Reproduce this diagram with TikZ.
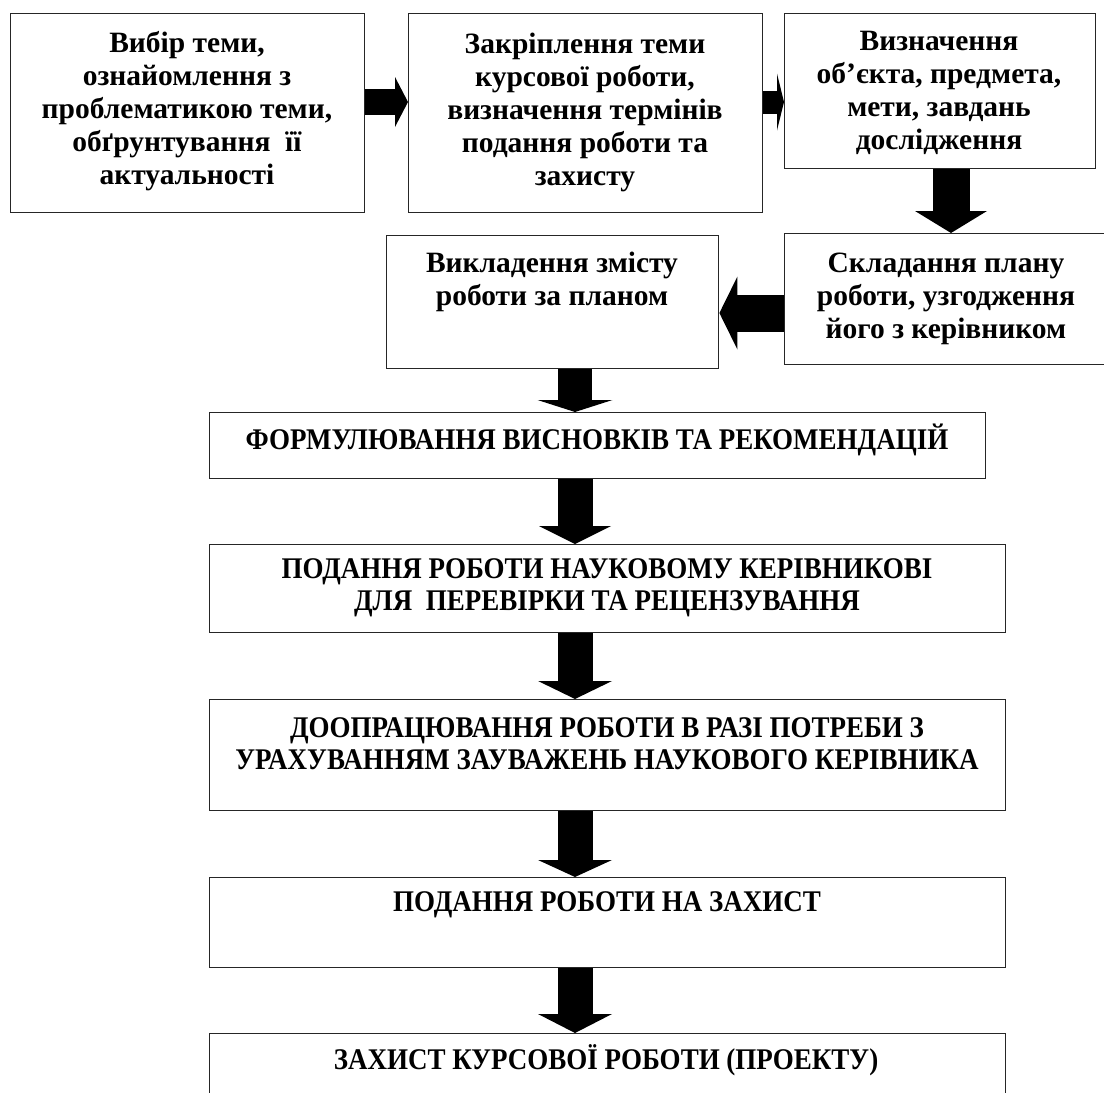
\documentclass[tikz,border=0pt]{standalone}
\usepackage{fontspec}
\setmainfont{Liberation Serif}
\newfontfamily\condfont[FakeStretch=0.9]{Liberation Serif}
\usetikzlibrary{arrows.meta}
\begin{document}
\begin{tikzpicture}[x=1pt,y=-1pt,
  box/.style={draw=black!85, line width=1.4pt, rectangle, inner sep=0pt, anchor=north west},
  lt/.style={font=\bfseries\fontsize{29.5}{33}\selectfont, align=center, inner sep=0pt},
  ut/.style={font=\condfont\bfseries\fontsize{30}{32}\selectfont, align=center, inner sep=0pt},
  fat/.style n args={3}{draw=black, line width=#1, -{Triangle[width=#2, length=#3, line width=0pt]}}
]
\clip (0,0) rectangle (1104,1093);
\fill[white] (0,0) rectangle (1104,1093);
% boxes
\node[box, minimum width=354pt, minimum height=199pt] (b1) at (10,13) {};
\node[box, minimum width=354pt, minimum height=199pt] (b2) at (408,13) {};
\node[box, minimum width=311pt, minimum height=155pt] (b3) at (784,13) {};
\node[box, minimum width=322pt, minimum height=131pt] (b4) at (784,233) {};
\node[box, minimum width=332pt, minimum height=133pt] (b5) at (386,235) {};
\node[box, minimum width=776pt, minimum height=66pt] (b6) at (209,412) {};
\node[box, minimum width=796pt, minimum height=88pt] (b7) at (209,544) {};
\node[box, minimum width=796pt, minimum height=111pt] (b8) at (209,699) {};
\node[box, minimum width=796pt, minimum height=90pt] (b9) at (209,877) {};
\node[box, minimum width=796pt, minimum height=80pt] (b10) at (209,1033) {};
% texts
\node[lt] (t1) at (187,111) {Вибір теми,\\ознайомлення з\\проблематикою теми,\\обґрунтування~~її\\актуальності};
\node[lt] (t2) at (585,112) {Закріплення теми\\курсової роботи,\\визначення термінів\\подання роботи та\\захисту};
\node[lt] (t3) at (939,93) {Визначення\\об’єкта, предмета,\\мети, завдань\\дослідження};
\node[lt] (t4) at (946,299) {Складання плану\\роботи, узгодження\\його з керівником};
\node[lt] (t5) at (552,282) {Викладення змісту\\роботи за планом};
\node[ut] (t6) at (597,440) {ФОРМУЛЮВАННЯ ВИСНОВКІВ ТА РЕКОМЕНДАЦІЙ};
\node[ut] (t7) at (607,588) {ПОДАННЯ РОБОТИ НАУКОВОМУ КЕРІВНИКОВІ\\ДЛЯ~~ПЕРЕВІРКИ ТА РЕЦЕНЗУВАННЯ};
\node[ut] (t8) at (607,744) {ДООПРАЦЮВАННЯ РОБОТИ В РАЗІ ПОТРЕБИ З\\УРАХУВАННЯМ ЗАУВАЖЕНЬ НАУКОВОГО КЕРІВНИКА};
\node[ut] (t9) at (607,905) {ПОДАННЯ РОБОТИ НА ЗАХИСТ};
\node[ut] (t10) at (606,1060) {ЗАХИСТ КУРСОВОЇ РОБОТИ (ПРОЕКТУ)};
% arrows
\draw[fat={26pt}{50pt}{13pt}] (b1.east |- 0,102) -- (b2.west |- 0,102);
\draw[fat={23pt}{57pt}{7pt}] (b2.east |- 0,102) -- (b3.west |- 0,102);
\draw[fat={37pt}{72pt}{22pt}] (b3.south -| 951,0) -- (b4.north -| 951,0);
\draw[fat={37pt}{73pt}{18pt}] (b4.west |- 0,313) -- (b5.east |- 0,313);
\draw[fat={34pt}{75pt}{12pt}] (b5.south -| 575,0) -- (b6.north -| 575,0);
\draw[fat={35pt}{72pt}{18pt}] (b6.south -| 575,0) -- (b7.north -| 575,0);
\draw[fat={35pt}{74pt}{18pt}] (b7.south -| 575,0) -- (b8.north -| 575,0);
\draw[fat={35pt}{74pt}{17pt}] (b8.south -| 575,0) -- (b9.north -| 575,0);
\draw[fat={35pt}{74pt}{19pt}] (b9.south -| 575,0) -- (b10.north -| 575,0);
\end{tikzpicture}
\end{document}
